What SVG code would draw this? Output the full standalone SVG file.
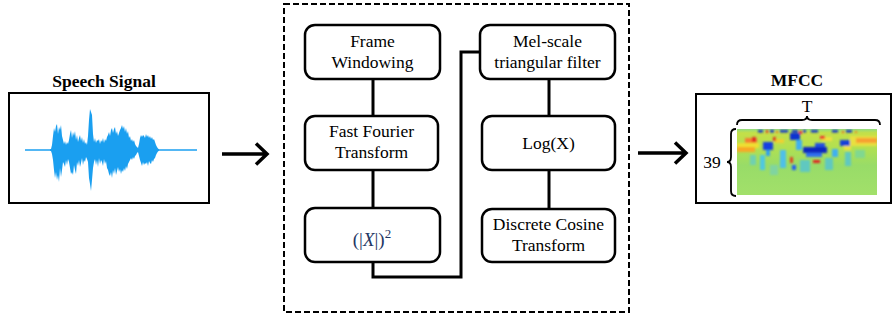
<svg xmlns="http://www.w3.org/2000/svg" width="893" height="320" viewBox="0 0 893 320">
<style>
.box{fill:#fff;stroke:#000;stroke-width:2.5}
.lbl{font-family:"Liberation Serif","Tinos","DejaVu Serif","Noto Serif",serif;font-size:17.5px;fill:#000;text-anchor:middle}
.ttl{font-family:"Liberation Serif","Tinos","DejaVu Serif","Noto Serif",serif;font-size:17.5px;font-weight:bold;fill:#000;text-anchor:middle}
.conn{fill:none;stroke:#000;stroke-width:3}
.arr{fill:none;stroke:#000;stroke-width:3.5;stroke-linecap:butt}
.brace{fill:none;stroke:#000;stroke-width:1.8}
</style>
<defs>
<clipPath id="specClip"><rect x="737" y="129" width="140" height="66"/></clipPath>
<linearGradient id="specBase" x1="0" y1="0" x2="0" y2="1">
<stop offset="0" stop-color="#90dc80"/>
<stop offset="0.06" stop-color="#c4e048"/>
<stop offset="0.3" stop-color="#b0e052"/>
<stop offset="0.55" stop-color="#98dc68"/>
<stop offset="1" stop-color="#a2e06a"/>
</linearGradient>
<filter id="soft" x="-5%" y="-5%" width="110%" height="110%"><feGaussianBlur stdDeviation="1.1"/></filter>
</defs>

<!-- Speech signal -->
<g id="speech-signal">
<text class="ttl" x="104" y="87">Speech Signal</text>
<rect x="9" y="93" width="200" height="110" fill="#fff" stroke="#000" stroke-width="2"/>
<line x1="25" y1="150" x2="197" y2="150" stroke="#1a9ff0" stroke-width="1.3"/>
<polygon fill="#1a9ff0" points="50,149.3 51,149 52,145 53,136 54,128 55,132 56,126 57,124 58,134 59,127 60,130 61,125 62,136 63,140 64,144 65,141 66,145 67,142 68,144 69,140 70,134 71,130 72,138 73,132 74,136 75,131 76,140 77,135 78,142 79,138 80,135 81,141 82,137 83,143 84,139 85,144 86,142 87,145 88,136 89,120 90,109 91,112 92,115 93,134 94,142 95,138 96,143 97,140 98,141 99,139 100,144 101,140 102,142 103,138 104,143 105,139 106,141 107,137 108,135 109,132 110,136 111,130 112,128 113,133 114,129 115,127 116,134 117,131 118,136 119,133 120,130 121,128 122,125 123,129 124,126 125,132 126,128 127,134 128,131 129,138 130,136 131,141 132,139 133,142 134,140 135,144 136,146 137,147 138,148 139,144 140,138 141,135 142,137 143,135 144,136 145,138 146,134 147,137 148,135 149,138 150,136 151,139 152,137 153,140 154,139 155,142 156,145 157,147 158,148.5 159,149.3 159,150.7 158,151.5 157,153 156,155 155,158 154,159 153,162 152,160 151,164 150,163 149,161 148,166 147,162 146,164 145,163 144,165 143,162 142,166 141,163 140,160 139,156 138,152 137,153 136,155 135,156 134,159 133,157 132,160 131,158 130,160 129,162 128,164 127,169 126,166 125,171 124,168 123,172 122,170 121,174 120,169 119,172 118,167 117,171 116,175 115,168 114,174 113,170 112,178 111,172 110,176 109,174 108,170 107,168 106,161 105,164 104,159 103,166 102,162 101,160 100,164 99,158 98,167 97,160 96,165 95,159 94,162 93,168 92,180 91,191 90,184 89,178 88,162 87,159 86,157 85,162 84,160 83,165 82,158 81,163 80,167 79,160 78,166 77,162 76,174 75,170 74,165 73,175 72,172 71,174 70,168 69,162 68,159 67,165 66,160 65,167 64,164 63,162 62,170 61,177 60,168 59,182 58,175 57,180 56,172 55,178 54,170 53,160 52,154 51,151 50,150.7"/>
</g>

<!-- MFCC -->
<g id="mfcc">
<text class="ttl" x="797" y="86">MFCC</text>
<rect x="696" y="94" width="195" height="109" fill="#fff" stroke="#000" stroke-width="2"/>
<g clip-path="url(#specClip)">
<rect x="737" y="129" width="140" height="66" fill="url(#specBase)"/>
<g filter="url(#soft)">
<rect x="737" y="143" width="22" height="5" fill="#eee030"/>
<rect x="737" y="147" width="18" height="5" fill="#f8a828"/>
<rect x="745" y="138" width="12" height="5" fill="#f48030"/>
<rect x="752" y="137" width="4" height="5" fill="#e02820"/>
<rect x="850" y="136" width="27" height="10" fill="#e8e040"/>
<rect x="856" y="138" width="21" height="5" fill="#f8a030"/>
<rect x="775" y="139" width="9" height="4" fill="#f0d030"/>
<rect x="822" y="137" width="10" height="4" fill="#f0e040"/>
<rect x="844" y="146" width="7" height="4" fill="#f0e040"/>
<rect x="758" y="130" width="5" height="2.5" fill="#1030c8"/>
<rect x="770" y="130" width="4" height="2.5" fill="#1030c8"/>
<rect x="780" y="130" width="8" height="2.5" fill="#1030c8"/>
<rect x="792" y="130" width="6" height="2.5" fill="#1030c8"/>
<rect x="803" y="130" width="3" height="2.5" fill="#1030c8"/>
<rect x="811" y="130" width="7" height="2.5" fill="#1030c8"/>
<rect x="832" y="130" width="6" height="2.5" fill="#1030c8"/>
<rect x="846" y="130" width="6" height="2.5" fill="#1030c8"/>
<rect x="766" y="130" width="2" height="3" fill="#e83020"/>
<rect x="776" y="131" width="2" height="2" fill="#f07020"/>
<rect x="799" y="131" width="3" height="3" fill="#f02020"/>
<rect x="842" y="131" width="2" height="2" fill="#f06020"/>
<rect x="855" y="131" width="2" height="2" fill="#f08020"/>
<rect x="763" y="142" width="10" height="8" fill="#1840e0"/>
<rect x="766" y="150" width="4" height="6" fill="#30a0f0"/>
<rect x="790" y="133" width="10" height="7" fill="#1030d0"/>
<rect x="796" y="140" width="6" height="10" fill="#40b0f0"/>
<rect x="803" y="147" width="24" height="6" fill="#1028c0"/>
<rect x="806" y="153" width="16" height="4" fill="#3070f0"/>
<rect x="815" y="143" width="10" height="4" fill="#2050e0"/>
<rect x="840" y="140" width="10" height="6" fill="#1840d8"/>
<rect x="832" y="149" width="6" height="8" fill="#40b0f0"/>
<rect x="792" y="165" width="4" height="5" fill="#2060f0"/>
<rect x="760" y="155" width="5" height="15" fill="#50c8e0"/>
<rect x="780" y="150" width="6" height="18" fill="#50c0e8"/>
<rect x="813" y="160" width="7" height="3" fill="#e02020"/>
<rect x="790" y="157" width="3" height="6" fill="#e04020"/>
<rect x="773" y="137" width="3" height="4" fill="#e03020"/>
<rect x="820" y="136" width="5" height="3" fill="#f03030"/>
<rect x="750" y="155" width="6" height="10" fill="#70d0b0"/>
<rect x="800" y="160" width="10" height="12" fill="#60c8c0"/>
<rect x="825" y="158" width="8" height="12" fill="#60c8c0"/>
<rect x="845" y="152" width="6" height="14" fill="#60c8c0"/>
<rect x="770" y="165" width="8" height="10" fill="#80d4a0"/>
<rect x="855" y="150" width="10" height="8" fill="#80d890"/>
</g>
</g>
<path class="brace" d="M737,125 Q737,120 742,120 L802,120 Q807,120 807,116 Q807,120 812,120 L875,120 Q880,120 880,125"/>
<text class="lbl" x="807" y="112">T</text>
<path class="brace" d="M736,129 Q731,129 731,134 L731,157 Q731,162 727,162 Q731,162 731,167 L731,191 Q731,196 736,196"/>
<text class="lbl" x="712" y="168">39</text>
</g>

<!-- Processing block -->
<g id="processing">
<rect x="284" y="4" width="345" height="308" fill="none" stroke="#000" stroke-width="2" stroke-dasharray="6,3"/>
</g>

<g id="connectors">
<line class="conn" x1="373" y1="79" x2="373" y2="116"/>
<line class="conn" x1="373" y1="170" x2="373" y2="208"/>
<path class="conn" d="M373,262 L373,277 L461,277 L461,52 L480,52"/>
<line class="conn" x1="549" y1="79" x2="549" y2="116"/>
<line class="conn" x1="549" y1="170" x2="549" y2="209"/>
<path class="arr" d="M222,154 L266,154 M256,143.5 L267,154 L256,164.5"/>
<path class="arr" d="M638,153 L685,153 M675,142.5 L686,153 L675,163.5"/>
</g>

<g id="frame-windowing">
<rect class="box" x="305" y="25" width="135" height="54" rx="10"/>
<text class="lbl" x="372.5" y="47">Frame</text>
<text class="lbl" x="372.5" y="68">Windowing</text>
</g>
<g id="fft">
<rect class="box" x="305" y="116" width="133" height="54" rx="10"/>
<text class="lbl" x="371.5" y="137">Fast Fourier</text>
<text class="lbl" x="371.5" y="158">Transform</text>
</g>
<g id="power">
<rect class="box" x="305" y="208" width="135" height="54" rx="10"/>
<text class="lbl" x="372" y="246" style="fill:#1f3864;font-size:19px">(|<tspan font-style="italic">X</tspan>|)<tspan font-size="13" dy="-8">2</tspan></text>
</g>
<g id="mel-filter">
<rect class="box" x="480" y="25" width="135" height="54" rx="10"/>
<text class="lbl" x="547.5" y="47">Mel-scale</text>
<text class="lbl" x="547.5" y="68">triangular filter</text>
</g>
<g id="log">
<rect class="box" x="482" y="116" width="133" height="54" rx="10"/>
<text class="lbl" x="548.5" y="149">Log(X)</text>
</g>
<g id="dct">
<rect class="box" x="482" y="209" width="133" height="53" rx="10"/>
<text class="lbl" x="548.5" y="230">Discrete Cosine</text>
<text class="lbl" x="548.5" y="251">Transform</text>
</g>
</svg>
